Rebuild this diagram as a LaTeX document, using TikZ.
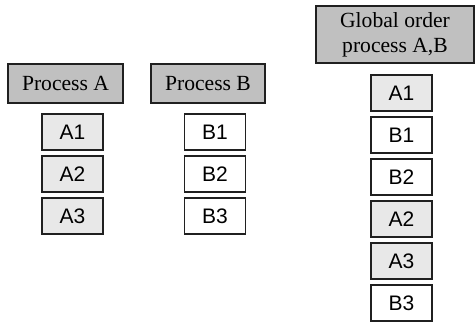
\documentclass[tikz,border=0pt]{standalone}
\usepackage{fontspec}
\setmainfont{Liberation Serif}
\newfontfamily\arialfont{Liberation Sans}
\definecolor{hdrgray}{HTML}{C0C0C0}
\definecolor{evgray}{HTML}{E8E8E8}
\definecolor{edge}{HTML}{202020}
\begin{document}
\begin{tikzpicture}[x=0.5pt, y=-0.5pt,
  every node/.style={inner sep=0pt, font=\fontsize{10.8}{12.5}\selectfont},
  hdrbox/.style={draw=edge, line width=0.9pt, fill=hdrgray, align=center},
  evbox/.style={draw=edge, line width=0.9pt, minimum width=30.5pt, minimum height=18pt, font=\arialfont\fontsize{10.5}{12}\selectfont},
  evA/.style={evbox, fill=evgray},
  evB/.style={evbox, fill=white}]
\useasboundingbox (0,0) rectangle (475,323);
% process headers
\node[hdrbox,minimum width=57.5pt,minimum height=19.5pt] (hdrA) at (65.5,83.5) {Process A};
\node[hdrbox,minimum width=57pt,minimum height=19.5pt] (hdrB) at (208,83.5) {Process B};
\node[hdrbox,minimum width=79pt,minimum height=28.5pt] (hdrG) at (395,34.5) {Global order\\process A,B};
% events of each process
\node[evA] (a1) at (72.5,132) {A1};
\node[evA] (a2) at (72.5,174) {A2};
\node[evA] (a3) at (72.5,216) {A3};
\node[evB] (b1) at (215,132) {B1};
\node[evB] (b2) at (215,174) {B2};
\node[evB] (b3) at (215,216) {B3};
% global order
\node[evA] (g1) at (401.5,93) {A1};
\node[evB] (g2) at (401.5,135) {B1};
\node[evB] (g3) at (401.5,177) {B2};
\node[evA] (g4) at (401.5,219) {A2};
\node[evA] (g5) at (401.5,261) {A3};
\node[evB] (g6) at (401.5,303) {B3};
\end{tikzpicture}
\end{document}
